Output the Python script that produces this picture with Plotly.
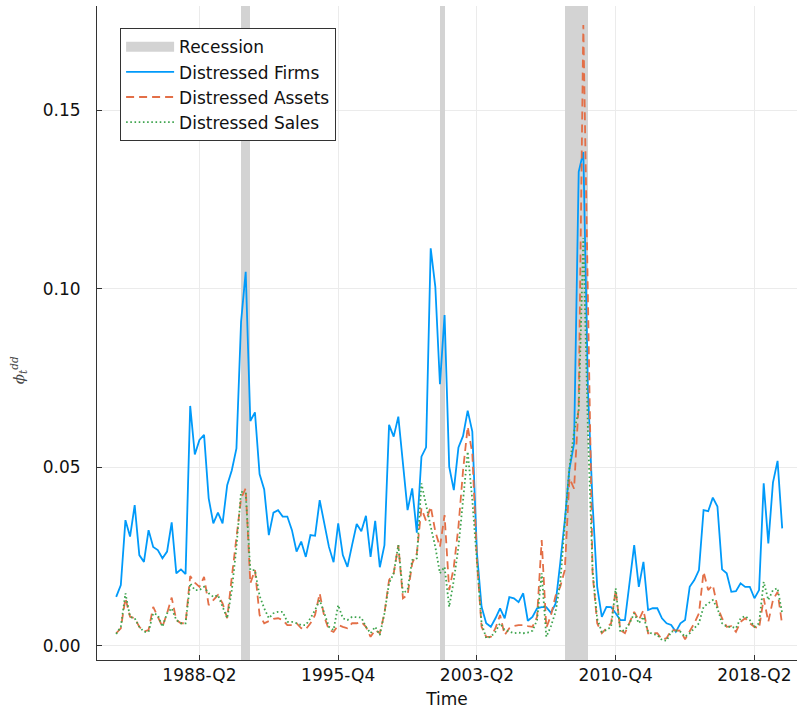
import plotly.graph_objects as go

# Quarterly sample: 1983-Q4 through 2019-Q4
start_year, start_q, n_quarters = 1983, 4, 145
quarters = []
for k in range(n_quarters):
    q = start_q - 1 + k
    quarters.append(f"{start_year + q // 4}-Q{q % 4 + 1}")

recession_quarters = ["1990-Q3", "1990-Q4", "2001-Q2",
                      "2008-Q1", "2008-Q2", "2008-Q3", "2008-Q4", "2009-Q1"]

tick_labels = ["1988-Q2", "1995-Q4", "2003-Q2", "2010-Q4", "2018-Q2"]
y_ticks = [0.0, 0.05, 0.10, 0.15]

distressed_firms = [
    0.0137, 0.0170, 0.0352, 0.0306, 0.0394, 0.0254, 0.0235, 0.0324, 0.0277, 0.0268,
    0.0245, 0.0264, 0.0346, 0.0203, 0.0214, 0.0201, 0.0672, 0.0536, 0.0577, 0.0591,
    0.0413, 0.0343, 0.0373, 0.0343, 0.0450, 0.0492, 0.0553, 0.0908, 0.1048, 0.0630,
    0.0654, 0.0481, 0.0438, 0.0310, 0.0373, 0.0380, 0.0362, 0.0362, 0.0324, 0.0264,
    0.0292, 0.0249, 0.0310, 0.0308, 0.0408, 0.0343, 0.0277, 0.0234, 0.0343, 0.0254,
    0.0221, 0.0282, 0.0341, 0.0321, 0.0364, 0.0249, 0.0350, 0.0220, 0.0282, 0.0619,
    0.0586, 0.0642, 0.0502, 0.0380, 0.0441, 0.0317, 0.0530, 0.0556, 0.1114, 0.1006,
    0.0733, 0.0927, 0.0502, 0.0436, 0.0556, 0.0588, 0.0659, 0.0600, 0.0259, 0.0109,
    0.0063, 0.0053, 0.0077, 0.0105, 0.0077, 0.0136, 0.0133, 0.0122, 0.0147, 0.0070,
    0.0081, 0.0105, 0.0108, 0.0108, 0.0092, 0.0118, 0.0231, 0.0352, 0.0495, 0.0567,
    0.1328, 0.1384, 0.0720, 0.0400, 0.0165, 0.0081, 0.0109, 0.0108, 0.0091, 0.0072,
    0.0072, 0.0180, 0.0282, 0.0165, 0.0235, 0.0100, 0.0105, 0.0105, 0.0077, 0.0063,
    0.0058, 0.0039, 0.0063, 0.0072, 0.0165, 0.0184, 0.0212, 0.0380, 0.0377, 0.0415,
    0.0390, 0.0214, 0.0203, 0.0151, 0.0153, 0.0175, 0.0165, 0.0165, 0.0133, 0.0156,
    0.0455, 0.0287, 0.0457, 0.0518, 0.0329,
]

distressed_assets = [
    0.0035, 0.0049, 0.0133, 0.0081, 0.0077, 0.0053, 0.0040, 0.0044, 0.0109, 0.0081,
    0.0053, 0.0091, 0.0135, 0.0072, 0.0063, 0.0063, 0.0195, 0.0177, 0.0165, 0.0193,
    0.0114, 0.0128, 0.0142, 0.0119, 0.0077, 0.0193, 0.0306, 0.0413, 0.0441, 0.0175,
    0.0212, 0.0086, 0.0063, 0.0068, 0.0075, 0.0077, 0.0072, 0.0058, 0.0058, 0.0063,
    0.0049, 0.0046, 0.0063, 0.0086, 0.0147, 0.0081, 0.0044, 0.0039, 0.0058, 0.0053,
    0.0049, 0.0063, 0.0063, 0.0067, 0.0053, 0.0025, 0.0044, 0.0035, 0.0091, 0.0184,
    0.0203, 0.0282, 0.0133, 0.0142, 0.0231, 0.0259, 0.0385, 0.0350, 0.0390, 0.0320,
    0.0277, 0.0366, 0.0156, 0.0221, 0.0334, 0.0492, 0.0614, 0.0539, 0.0240, 0.0053,
    0.0025, 0.0025, 0.0049, 0.0086, 0.0030, 0.0049, 0.0055, 0.0058, 0.0058, 0.0055,
    0.0053, 0.0081, 0.0296, 0.0050, 0.0085, 0.0140, 0.0165, 0.0212, 0.0470, 0.0440,
    0.0680, 0.1740, 0.0950, 0.0203, 0.0063, 0.0035, 0.0049, 0.0063, 0.0156, 0.0044,
    0.0035, 0.0063, 0.0095, 0.0072, 0.0100, 0.0035, 0.0035, 0.0035, 0.0018, 0.0021,
    0.0044, 0.0042, 0.0042, 0.0018, 0.0039, 0.0063, 0.0091, 0.0207, 0.0156, 0.0170,
    0.0109, 0.0077, 0.0053, 0.0055, 0.0039, 0.0067, 0.0077, 0.0063, 0.0053, 0.0049,
    0.0133, 0.0067, 0.0128, 0.0151, 0.0058,
]

distressed_sales = [
    0.0033, 0.0053, 0.0147, 0.0081, 0.0077, 0.0053, 0.0039, 0.0039, 0.0091, 0.0086,
    0.0053, 0.0091, 0.0105, 0.0072, 0.0063, 0.0063, 0.0175, 0.0156, 0.0156, 0.0165,
    0.0147, 0.0137, 0.0142, 0.0109, 0.0077, 0.0156, 0.0277, 0.0432, 0.0427, 0.0212,
    0.0212, 0.0140, 0.0105, 0.0077, 0.0091, 0.0095, 0.0095, 0.0067, 0.0067, 0.0063,
    0.0058, 0.0058, 0.0077, 0.0100, 0.0128, 0.0091, 0.0053, 0.0044, 0.0114, 0.0077,
    0.0072, 0.0081, 0.0081, 0.0079, 0.0053, 0.0035, 0.0053, 0.0030, 0.0091, 0.0175,
    0.0203, 0.0282, 0.0147, 0.0156, 0.0240, 0.0245, 0.0455, 0.0390, 0.0334, 0.0277,
    0.0203, 0.0221, 0.0109, 0.0184, 0.0277, 0.0408, 0.0544, 0.0408, 0.0221, 0.0063,
    0.0021, 0.0025, 0.0039, 0.0063, 0.0044, 0.0039, 0.0035, 0.0037, 0.0035, 0.0037,
    0.0042, 0.0072, 0.0203, 0.0025, 0.0055, 0.0095, 0.0175, 0.0343, 0.0500, 0.0600,
    0.0660, 0.1143, 0.0600, 0.0212, 0.0075, 0.0039, 0.0044, 0.0053, 0.0161, 0.0039,
    0.0044, 0.0063, 0.0091, 0.0063, 0.0081, 0.0039, 0.0033, 0.0030, 0.0016, 0.0014,
    0.0039, 0.0042, 0.0039, 0.0025, 0.0035, 0.0049, 0.0063, 0.0109, 0.0119, 0.0128,
    0.0105, 0.0063, 0.0053, 0.0053, 0.0049, 0.0077, 0.0083, 0.0072, 0.0053, 0.0063,
    0.0179, 0.0128, 0.0156, 0.0161, 0.0091,
]

Y_MIN, Y_MAX = -0.0040, 0.1793
FONT = "DejaVu Sans"
BLUE, ORANGE, GREEN, BAND = "#009AFA", "#E36F47", "#3EA44E", "#D3D3D3"

fig = go.Figure()

# Recession quarters: one full-height bar per quarter
fig.add_trace(go.Bar(
    x=recession_quarters,
    y=[Y_MAX - Y_MIN] * len(recession_quarters),
    base=Y_MIN, width=1, offset=0,
    marker=dict(color=BAND, line=dict(width=0)),
    showlegend=False, legendgroup="rec", hoverinfo="skip",
))
# legend swatch for the recession bars
fig.add_trace(go.Scatter(
    x=[None], y=[None], mode="lines", name="Recession", legendgroup="rec",
    line=dict(color=BAND, width=17),
))

fig.add_trace(go.Scatter(
    x=quarters, y=distressed_firms, mode="lines", name="Distressed Firms",
    line=dict(color=BLUE, width=1.8),
))
fig.add_trace(go.Scatter(
    x=quarters, y=distressed_assets, mode="lines", name="Distressed Assets",
    line=dict(color=ORANGE, width=1.8, dash="8px,5px"),
))
fig.add_trace(go.Scatter(
    x=quarters, y=distressed_sales, mode="lines", name="Distressed Sales",
    line=dict(color=GREEN, width=1.8, dash="1.6px,2.6px"),
))

axis_common = dict(
    showgrid=True, gridcolor="#ebebeb", gridwidth=1,
    showline=True, linecolor="#333333", linewidth=1,
    ticks="inside", ticklen=5, tickcolor="#333333",
    tickfont=dict(family=FONT, size=17, color="#111111"),
    zeroline=False,
)

fig.update_xaxes(
    type="category", categoryorder="array", categoryarray=quarters,
    range=[-4.15, 147.2],
    tickmode="array", tickvals=tick_labels, ticktext=tick_labels,
    title=dict(text="Time", font=dict(family=FONT, size=17, color="#111111"), standoff=8),
    **axis_common,
)
fig.update_yaxes(
    range=[Y_MIN, Y_MAX],
    tickmode="array", tickvals=y_ticks, tickformat=".2f",
    ticklabelstandoff=12,
    **axis_common,
)

fig.add_annotation(
    xref="paper", yref="paper", x=-0.113, y=0.443,
    text="<i>ϕ</i><sub><i>t</i></sub><sup><i>dd</i></sup>",
    showarrow=False, textangle=-90,
    font=dict(family="DejaVu Serif", size=15, color="#444444"),
    xanchor="center", yanchor="middle",
)

fig.update_layout(
    width=797, height=713,
    margin=dict(l=97, r=0, t=6, b=53),
    paper_bgcolor="white", plot_bgcolor="white",
    bargap=0,
    showlegend=True,
    legend=dict(
        x=0.033, y=0.966, xanchor="left", yanchor="top",
        bgcolor="white", bordercolor="#333333", borderwidth=1,
        font=dict(family=FONT, size=17, color="#111111"),
        itemwidth=48, tracegroupgap=0,
    ),
)

fig.write_html("out.html")
